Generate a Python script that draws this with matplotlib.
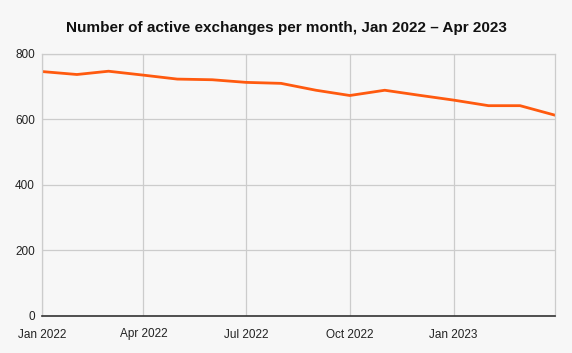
import matplotlib
matplotlib.use("Agg")
import matplotlib.pyplot as plt
import matplotlib.dates as mdates
import numpy as np
import pandas as pd

months = pd.date_range("2022-01-01", "2023-04-01", freq="MS")
active_exchanges = [745, 736, 746, 734, 722, 720, 712, 709, 688, 672, 688, 673, 658, 641, 641, 612]
tick_dates = pd.to_datetime(["2022-01-01", "2022-04-01", "2022-07-01", "2022-10-01", "2023-01-01"])
tick_labels = ["Jan 2022", "Apr 2022", "Jul 2022", "Oct 2022", "Jan 2023"]
y_ticks = [0, 200, 400, 600, 800]

plt.rcParams['font.family'] = ['Liberation Sans', 'DejaVu Sans']
bg = "#f7f7f7"
fig = plt.figure(figsize=(5.72, 3.53), dpi=100, facecolor=bg)
ax = fig.add_axes([42/572, 1-316/353, (555-42)/572, (316-53.5)/353], facecolor=bg)

ax.plot(months, active_exchanges, color="#ff5a0f", lw=2.0, solid_joinstyle="round")

ax.set_xlim(months[0], months[-1])
ax.set_ylim(0, 800)
ax.set_yticks(y_ticks)
ax.set_yticklabels([str(v) for v in y_ticks])
ax.set_xticks(tick_dates)
ax.set_xticklabels(tick_labels)
ax.grid(True, color="#cccccc", lw=0.9)
ax.set_axisbelow(True)
for s in ["top", "right", "left"]:
    ax.spines[s].set_color("#cccccc")
    ax.spines[s].set_linewidth(0.9)
ax.spines["bottom"].set_color("#333333")
ax.spines["bottom"].set_linewidth(1.2)
ax.tick_params(length=0, labelsize=8.5, colors="#222222")
ax.tick_params(axis="x", pad=9)
ax.tick_params(axis="y", pad=5)

fig.text(0.5, 1-28/353, "Number of active exchanges per month, Jan 2022 \u2013 Apr 2023",
         ha="center", va="center", fontsize=11, fontweight="bold", color="#111111")

fig.savefig("out.png", dpi=100, facecolor=bg)
